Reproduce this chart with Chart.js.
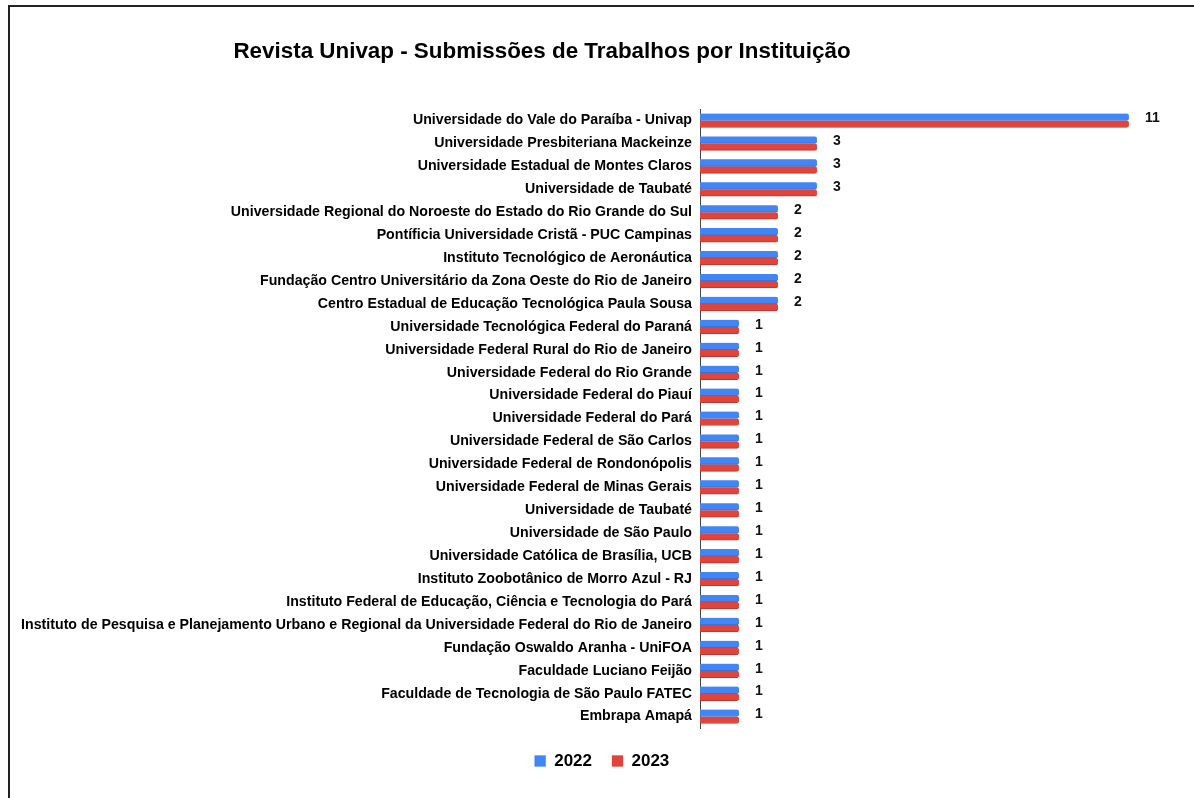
<!DOCTYPE html>
<html>
<head>
<meta charset="utf-8">
<script src="https://cdn.jsdelivr.net/npm/chart.js@4/dist/chart.umd.min.js"></script>
<style>
  html, body { margin: 0; padding: 0; background: #fff; overflow: hidden; }
  #wrap { position: absolute; left: 0; top: 0; width: 1194px; height: 798px; }
  #frame { position: absolute; left: 8px; top: 5px; width: 1400px; height: 1000px;
           border-left: 2px solid #222; border-top: 2px solid #222; pointer-events: none; }
</style>
</head>
<body>
<div id="wrap"><canvas id="c" width="1194" height="798"></canvas></div>
<div id="frame"></div>
<script>
const chartTitle = 'Revista Univap - Submissões de Trabalhos por Instituição';
const institutions = [
  'Universidade do Vale do Paraíba - Univap',
  'Universidade Presbiteriana Mackeinze',
  'Universidade Estadual de Montes Claros',
  'Universidade de Taubaté',
  'Universidade Regional do Noroeste do Estado do Rio Grande do Sul',
  'Pontíficia Universidade Cristã - PUC Campinas',
  'Instituto Tecnológico de Aeronáutica',
  'Fundação Centro Universitário da Zona Oeste do Rio de Janeiro',
  'Centro Estadual de Educação Tecnológica Paula Sousa',
  'Universidade Tecnológica Federal do Paraná',
  'Universidade Federal Rural do Rio de Janeiro',
  'Universidade Federal do Rio Grande',
  'Universidade Federal do Piauí',
  'Universidade Federal do Pará',
  'Universidade Federal de São Carlos',
  'Universidade Federal de Rondonópolis',
  'Universidade Federal de Minas Gerais',
  'Universidade de Taubaté',
  'Universidade de São Paulo',
  'Universidade Católica de Brasília, UCB',
  'Instituto Zoobotânico de Morro Azul - RJ',
  'Instituto Federal de Educação, Ciência e Tecnologia do Pará',
  'Instituto de Pesquisa e Planejamento Urbano e Regional da Universidade Federal do Rio de Janeiro',
  'Fundação Oswaldo Aranha - UniFOA',
  'Faculdade Luciano Feijão',
  'Faculdade de Tecnologia de São Paulo FATEC',
  'Embrapa Amapá'
];
const values2022 = [11, 3, 3, 3, 2, 2, 2, 2, 2, 1, 1, 1, 1, 1, 1, 1, 1, 1, 1, 1, 1, 1, 1, 1, 1, 1, 1];
const values2023 = [11, 3, 3, 3, 2, 2, 2, 2, 2, 1, 1, 1, 1, 1, 1, 1, 1, 1, 1, 1, 1, 1, 1, 1, 1, 1, 1];
const seriesNames = ['2022', '2023'];
const xMax = 12.67;

const FONT = '"Liberation Sans", Arial, sans-serif';

const titlePlugin = {
  id: 'customTitle',
  afterDraw(chart) {
    const ctx = chart.ctx;
    ctx.save();
    ctx.font = 'bold 22.4px ' + FONT;
    ctx.fillStyle = '#000';
    ctx.textAlign = 'center';
    ctx.textBaseline = 'middle';
    ctx.fillText(chartTitle, 542, 52);
    ctx.restore();
  }
};

const valueLabels = {
  id: 'valueLabels',
  afterDatasetsDraw(chart) {
    const ctx = chart.ctx;
    const xs = chart.scales.x, ys = chart.scales.y;
    ctx.save();
    ctx.font = 'bold 14px ' + FONT;
    ctx.fillStyle = '#111';
    ctx.textAlign = 'left';
    ctx.textBaseline = 'middle';
    values2022.forEach((v, i) => {
      const m = Math.max(v, values2023[i]);
      ctx.fillText(String(v), xs.getPixelForValue(m) + 16, ys.getPixelForValue(i) - 2);
    });
    ctx.restore();
  }
};

new Chart(document.getElementById('c'), {
  type: 'bar',
  data: {
    labels: institutions,
    datasets: [
      { label: seriesNames[0], data: values2022, backgroundColor: '#4285f4',
        borderColor: '#3a6fcf', borderWidth: {bottom: 1, top: 0, right: 0, left: 0},
        borderSkipped: 'start', borderRadius: 2, barThickness: 7 },
      { label: seriesNames[1], data: values2023, backgroundColor: '#e0443a',
        borderColor: '#b9362d', borderWidth: {bottom: 1, top: 0, right: 0, left: 0},
        borderSkipped: 'start', borderRadius: 2, barThickness: 7 }
    ]
  },
  options: {
    indexAxis: 'y',
    responsive: false,
    animation: false,
    layout: { padding: { left: 10, right: 0, top: 109, bottom: 18.5 } },
    scales: {
      x: { display: true, min: 0, max: xMax,
           grid: { display: false, drawTicks: false },
           border: { display: false },
           ticks: { display: false },
           afterFit(scale) { scale.height = 4.5; } },
      y: {
        grid: { display: false, drawTicks: false },
        border: { display: true, color: '#444', width: 1 },
        ticks: { color: '#000', font: { family: FONT, size: 14.2, weight: 'bold' }, padding: 8, autoSkip: false },
        afterFit(scale) { scale.width = 690; }
      }
    },
    plugins: {
      title: { display: false },
      tooltip: { enabled: false },
      legend: {
        display: true,
        position: 'bottom',
        labels: { boxWidth: 11, boxHeight: 11, padding: 20, color: '#000',
                  font: { family: FONT, size: 17, weight: 'bold' } }
      }
    }
  },
  plugins: [titlePlugin, valueLabels]
});
</script>
</body>
</html>
